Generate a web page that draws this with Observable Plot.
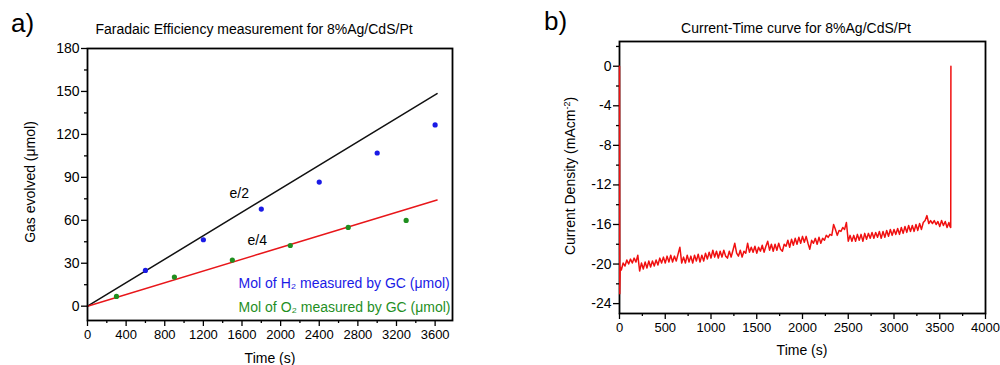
<!DOCTYPE html>
<html>
<head>
<meta charset="utf-8">
<script src="https://cdn.jsdelivr.net/npm/d3@7"></script>
<script src="https://cdn.jsdelivr.net/npm/@observablehq/plot@0.6"></script>
<style>
  html, body { margin: 0; padding: 0; background: white; }
  #wrap { position: relative; width: 1000px; height: 365px; background: white; overflow: hidden;
          font-family: "Liberation Sans", Arial, sans-serif; color: black; }
  .pane { position: absolute; top: 0; }
  .t { position: absolute; white-space: nowrap; transform: translate(-50%, -50%); line-height: 1; }
  .rot { transform: translate(-50%, -50%) rotate(-90deg); }
  .panel { position: absolute; font-size: 26px; line-height: 1; }
</style>
</head>
<body>
<div id="wrap">
  <div id="paneA" class="pane" style="left:0"></div>
  <div id="paneB" class="pane" style="left:500px"></div>
  <div class="panel" style="left:11px; top:10px;">a)</div>
  <div class="panel" style="left:544px; top:8px;">b)</div>
  <div class="t" style="left:254px; top:29px; font-size:14px;">Faradaic Efficiency measurement for 8%Ag/CdS/Pt</div>
  <div class="t" style="left:796px; top:28px; font-size:14px;">Current-Time curve for 8%Ag/CdS/Pt</div>
  <div class="t" style="left:270px; top:358px; font-size:14px;">Time (s)</div>
  <div class="t" style="left:802px; top:350px; font-size:14px;">Time (s)</div>
  <div class="t rot" style="left:30px; top:182px; font-size:14px;">Gas evolved (μmol)</div>
  <div class="t rot" style="left:570px; top:176px; font-size:14px;">Current Density (mAcm<sup style="font-size:9px">-2</sup>)</div>
</div>
<script>
// ---------- Panel a: Faradaic efficiency ----------
const h2Times = [600, 1200, 1800, 2400, 3000, 3600];
const h2Mol   = [25.0, 46.4, 67.8, 86.7, 107.0, 126.6];
const o2Times = [300, 900, 1500, 2100, 2700, 3300];
const o2Mol   = [6.8, 20.3, 32.2, 42.4, 55.0, 59.9];
const eHalfTimes = [0, 3620];
const eHalfMol   = [0, 148.5];
const eQuarterTimes = [0, 3620];
const eQuarterMol   = [0, 74.2];
const aXTicks = [0, 400, 800, 1200, 1600, 2000, 2400, 2800, 3200, 3600];
const aXMinor = [200, 600, 1000, 1400, 1800, 2200, 2600, 3000, 3400];
const aYTicks = [0, 30, 60, 90, 120, 150, 180];
const aYMinor = [15, 45, 75, 105, 135, 165];
const lineLabels = [
  {text: "e/2", t: 1572, v: 78.7},
  {text: "e/4", t: 1758, v: 45.7}
];
const legendLabels = [
  {text: "Mol of H\u2082 measured by GC (\u03bcmol)", t: 1565, v: 15.9, color: "#1a1ae6"},
  {text: "Mol of O\u2082 measured by GC (\u03bcmol)", t: 1565, v: -0.9, color: "#1f8f1f"}
];

// ---------- Panel b: current-time ----------
const currentHeadTimes = [0, 3, 8];
const currentHeadValues = [0, -23.0, -20.3];
const currentStart = 20, currentStep = 20;
const currentValues = [
  -20.6, -19.9, -20.2, -19.6, -20.0, -19.5, -19.9, -19.4, -19.8, -19.1,
  -20.7, -19.9, -20.5, -19.8, -20.4, -19.7, -20.3, -19.7, -20.2, -19.6,
  -20.1, -19.4, -19.9, -19.3, -19.9, -19.2, -19.8, -19.1, -19.8, -19.2,
  -19.7, -19.0, -18.3, -19.9, -19.3, -19.9, -19.1, -19.8, -19.2, -19.9,
  -19.1, -19.7, -19.0, -19.8, -19.1, -19.7, -18.9, -19.5, -18.8, -19.4,
  -18.6, -19.3, -18.7, -19.4, -18.7, -19.3, -18.6, -19.2, -19.4, -18.7,
  -19.3, -18.6, -17.9, -18.9, -19.2, -18.6, -19.3, -18.7, -18.9, -17.9,
  -18.8, -18.3, -18.8, -18.2, -18.9, -18.3, -18.7, -18.1, -18.8, -18.2,
  -17.7, -18.6, -18.0, -18.7, -18.0, -18.6, -17.9, -18.5, -18.7, -18.0,
  -18.2, -17.6, -18.3, -17.5, -18.1, -17.4, -18.0, -17.3, -17.9, -17.2,
  -17.8, -17.2, -17.9, -18.5, -17.6, -17.9, -17.4, -18.0, -17.3, -17.9,
  -17.4, -17.6, -17.1, -17.3, -17.0, -17.1, -16.0, -16.5, -17.1, -16.6,
  -16.7, -16.3, -16.5, -15.8, -17.7, -17.1, -17.7, -17.1, -17.7, -17.0,
  -17.6, -17.0, -17.7, -16.9, -17.5, -16.9, -17.4, -16.8, -17.4, -16.8,
  -17.3, -16.7, -17.4, -16.7, -17.3, -16.6, -17.2, -16.5, -17.1, -16.5,
  -17.0, -16.4, -17.0, -16.3, -16.9, -16.2, -16.8, -16.1, -16.7, -16.1,
  -16.7, -16.0, -16.6, -15.9, -16.5, -15.8, -15.6, -15.1, -15.9, -15.6,
  -15.9, -15.6, -16.0, -15.7, -16.2, -15.6, -16.1, -15.7, -16.3, -15.8
];
const currentTailTimes = [3612, 3620, 3622];
const currentTailValues = [-16.2, -16.3, 0];
const bXTicks = [0, 500, 1000, 1500, 2000, 2500, 3000, 3500, 4000];
const bXMinor = [250, 750, 1250, 1750, 2250, 2750, 3250, 3750];
const bYTicks = [0, -4, -8, -12, -16, -20, -24];
const bYMinor = [2, -2, -6, -10, -14, -18, -22];

const FONT = '"Liberation Sans", Arial, sans-serif';
const blank = () => "";
const plain = d => String(d);

// build tables
const zip = (ts, vs) => ts.map((t, i) => ({t, v: vs[i]}));
const h2 = zip(h2Times, h2Mol);
const o2 = zip(o2Times, o2Mol);
const eHalf = zip(eHalfTimes, eHalfMol);
const eQuarter = zip(eQuarterTimes, eQuarterMol);
const current = zip(currentHeadTimes, currentHeadValues)
  .concat(currentValues.map((v, i) => ({t: currentStart + currentStep * i, v})))
  .concat(zip(currentTailTimes, currentTailValues));

const plotA = Plot.plot({
  width: 500, height: 365,
  marginLeft: 87, marginRight: 48, marginTop: 48, marginBottom: 45,
  style: {fontFamily: FONT, fontSize: "14px", color: "black", background: "transparent", overflow: "visible"},
  x: {domain: [0, 3780]},
  y: {domain: [-10, 180]},
  marks: [
    Plot.line(eHalf, {x: "t", y: "v", stroke: "#111", strokeWidth: 1.5}),
    Plot.line(eQuarter, {x: "t", y: "v", stroke: "#e8161a", strokeWidth: 1.5}),
    Plot.dot(h2, {x: "t", y: "v", r: 2.6, fill: "#1a1ae6", stroke: null}),
    Plot.dot(o2, {x: "t", y: "v", r: 2.6, fill: "#1f8f1f", stroke: null}),
    Plot.text(lineLabels, {x: "t", y: "v", text: "text", fontSize: 14, fill: "black"}),
    Plot.text(legendLabels, {x: "t", y: "v", text: "text", fill: "color", fontSize: 14, textAnchor: "start"}),
    Plot.axisX(aXTicks, {anchor: "bottom", tickSize: 6, tickPadding: 3, label: null, fontSize: 13, strokeWidth: 1.3, tickFormat: plain}),
    Plot.axisX(aXMinor, {anchor: "bottom", tickSize: 3, tickFormat: blank, label: null, strokeWidth: 1.3}),
    Plot.axisY(aYTicks, {anchor: "left", tickSize: 6, tickPadding: 2, label: null, fontSize: 14, strokeWidth: 1.3, tickFormat: plain}),
    Plot.axisY(aYMinor, {anchor: "left", tickSize: 3, tickFormat: blank, label: null, strokeWidth: 1.3}),
    Plot.frame({stroke: "black", strokeWidth: 1.8})
  ]
});
document.getElementById("paneA").append(plotA);

const plotB = Plot.plot({
  width: 500, height: 365,
  marginLeft: 119, marginRight: 15, marginTop: 41, marginBottom: 52,
  style: {fontFamily: FONT, fontSize: "14px", color: "black", background: "transparent", overflow: "visible"},
  x: {domain: [0, 4000]},
  y: {domain: [-25, 2.5]},
  marks: [
    Plot.axisX(bXTicks, {anchor: "bottom", tickSize: 6, tickPadding: 3, label: null, fontSize: 13, strokeWidth: 1.3, tickFormat: plain}),
    Plot.axisX(bXMinor, {anchor: "bottom", tickSize: 3, tickFormat: blank, label: null, strokeWidth: 1.3}),
    Plot.axisY(bYTicks, {anchor: "left", tickSize: 6, tickPadding: 2, label: null, fontSize: 14, strokeWidth: 1.3, tickFormat: plain}),
    Plot.axisY(bYMinor, {anchor: "left", tickSize: 3, tickFormat: blank, label: null, strokeWidth: 1.3}),
    Plot.frame({stroke: "black", strokeWidth: 1.8}),
    Plot.line(current, {x: "t", y: "v", stroke: "#f01010", strokeWidth: 1.5})
  ]
});
document.getElementById("paneB").append(plotB);
</script>
</body>
</html>
